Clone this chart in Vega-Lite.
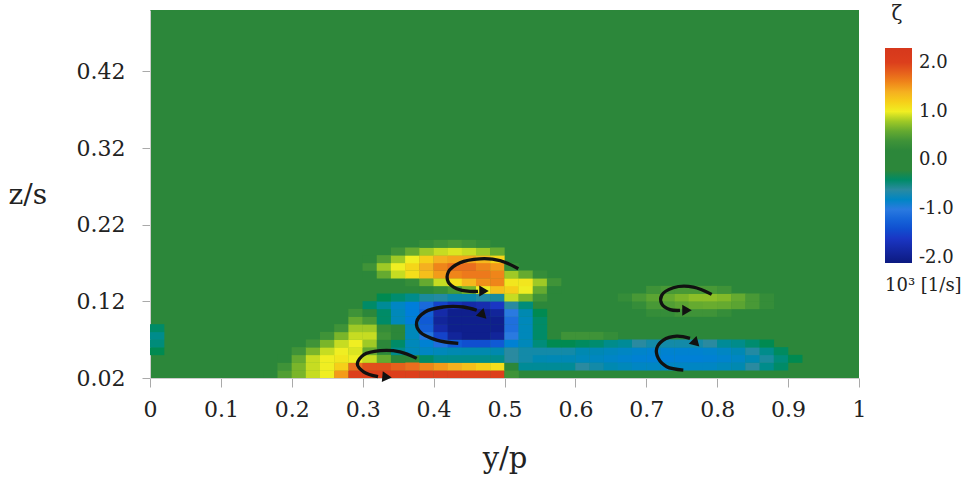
{
"$schema":"https://vega.github.io/schema/vega-lite/v6.json",
"autosize":"none",
"width":709,"height":368,
"padding":{"left":150,"top":10,"right":115,"bottom":106},
"background":"white",
"config":{"view":{"fill":"#2c873a","stroke":null},"font":"DejaVu Serif"},
"title":{"text":"ζ","orient":"top","anchor":"end","frame":"group","align":"center","baseline":"alphabetic","dx":38,"dy":30,"offset":0,"fontSize":20,"font":"DejaVu Serif","fontWeight":"normal","color":"#222"},
"datasets":{
"cells":[
{"x":0.17,"z":0.025,"v":0.3},{"x":0.19,"z":0.025,"v":0.5},{"x":0.21,"z":0.025,"v":0.7},{"x":0.23,"z":0.025,"v":0.9},{"x":0.25,"z":0.025,"v":1.0},{"x":0.27,"z":0.025,"v":1.5},{"x":0.29,"z":0.025,"v":2.0},{"x":0.31,"z":0.025,"v":2.0},{"x":0.33,"z":0.025,"v":2.0},{"x":0.35,"z":0.025,"v":2.0},{"x":0.37,"z":0.025,"v":2.0},{"x":0.39,"z":0.025,"v":2.0},{"x":0.41,"z":0.025,"v":2.0},{"x":0.43,"z":0.025,"v":2.0},{"x":0.45,"z":0.025,"v":2.0},{"x":0.47,"z":0.025,"v":2.0},{"x":0.49,"z":0.025,"v":2.0},{"x":0.51,"z":0.025,"v":0.4},
{"x":0.19,"z":0.035,"v":0.4},{"x":0.21,"z":0.035,"v":0.7},{"x":0.23,"z":0.035,"v":0.9},{"x":0.25,"z":0.035,"v":1.0},{"x":0.27,"z":0.035,"v":1.2},{"x":0.29,"z":0.035,"v":1.7},{"x":0.31,"z":0.035,"v":1.9},{"x":0.33,"z":0.035,"v":1.9},{"x":0.35,"z":0.035,"v":1.8},{"x":0.37,"z":0.035,"v":1.7},{"x":0.39,"z":0.035,"v":1.6},{"x":0.41,"z":0.035,"v":1.5},{"x":0.43,"z":0.035,"v":1.4},{"x":0.45,"z":0.035,"v":1.3},{"x":0.47,"z":0.035,"v":1.2},{"x":0.49,"z":0.035,"v":1.1},{"x":0.51,"z":0.035,"v":-0.3},{"x":0.53,"z":0.035,"v":-0.55},{"x":0.55,"z":0.035,"v":-0.55},{"x":0.57,"z":0.035,"v":-0.55},{"x":0.59,"z":0.035,"v":-0.55},{"x":0.61,"z":0.035,"v":-0.6},{"x":0.63,"z":0.035,"v":-0.65},{"x":0.65,"z":0.035,"v":-0.7},{"x":0.67,"z":0.035,"v":-0.75},{"x":0.69,"z":0.035,"v":-0.8},{"x":0.71,"z":0.035,"v":-0.8},{"x":0.73,"z":0.035,"v":-0.8},{"x":0.75,"z":0.035,"v":-0.8},{"x":0.77,"z":0.035,"v":-0.8},{"x":0.79,"z":0.035,"v":-0.8},{"x":0.81,"z":0.035,"v":-0.75},{"x":0.83,"z":0.035,"v":-0.7},{"x":0.85,"z":0.035,"v":-0.6},{"x":0.87,"z":0.035,"v":-0.5},{"x":0.89,"z":0.035,"v":-0.4},
{"x":0.19,"z":0.045,"v":0.3},{"x":0.21,"z":0.045,"v":0.6},{"x":0.23,"z":0.045,"v":0.9},{"x":0.25,"z":0.045,"v":1.0},{"x":0.27,"z":0.045,"v":1.05},{"x":0.29,"z":0.045,"v":1.0},{"x":0.31,"z":0.045,"v":0.9},{"x":0.33,"z":0.045,"v":0.6},{"x":0.35,"z":0.045,"v":0.3},{"x":0.39,"z":0.045,"v":-0.4},{"x":0.41,"z":0.045,"v":-0.5},{"x":0.43,"z":0.045,"v":-0.5},{"x":0.45,"z":0.045,"v":-0.5},{"x":0.47,"z":0.045,"v":-0.5},{"x":0.49,"z":0.045,"v":-0.5},{"x":0.51,"z":0.045,"v":-0.6},{"x":0.53,"z":0.045,"v":-0.65},{"x":0.55,"z":0.045,"v":-0.7},{"x":0.57,"z":0.045,"v":-0.72},{"x":0.59,"z":0.045,"v":-0.72},{"x":0.61,"z":0.045,"v":-0.75},{"x":0.63,"z":0.045,"v":-0.78},{"x":0.65,"z":0.045,"v":-0.82},{"x":0.67,"z":0.045,"v":-0.86},{"x":0.69,"z":0.045,"v":-0.9},{"x":0.71,"z":0.045,"v":-0.92},{"x":0.73,"z":0.045,"v":-0.92},{"x":0.75,"z":0.045,"v":-0.92},{"x":0.77,"z":0.045,"v":-0.92},{"x":0.79,"z":0.045,"v":-0.9},{"x":0.81,"z":0.045,"v":-0.86},{"x":0.83,"z":0.045,"v":-0.8},{"x":0.85,"z":0.045,"v":-0.7},{"x":0.87,"z":0.045,"v":-0.58},{"x":0.89,"z":0.045,"v":-0.45},{"x":0.91,"z":0.045,"v":-0.35},
{"x":0.01,"z":0.055,"v":-0.35},{"x":0.21,"z":0.055,"v":0.4},{"x":0.23,"z":0.055,"v":0.7},{"x":0.25,"z":0.055,"v":0.9},{"x":0.27,"z":0.055,"v":1.0},{"x":0.29,"z":0.055,"v":0.95},{"x":0.31,"z":0.055,"v":0.6},{"x":0.35,"z":0.055,"v":-0.5},{"x":0.37,"z":0.055,"v":-0.75},{"x":0.39,"z":0.055,"v":-0.8},{"x":0.41,"z":0.055,"v":-0.75},{"x":0.43,"z":0.055,"v":-0.7},{"x":0.45,"z":0.055,"v":-0.68},{"x":0.47,"z":0.055,"v":-0.68},{"x":0.49,"z":0.055,"v":-0.68},{"x":0.51,"z":0.055,"v":-0.6},{"x":0.53,"z":0.055,"v":-0.65},{"x":0.55,"z":0.055,"v":-0.65},{"x":0.57,"z":0.055,"v":-0.65},{"x":0.59,"z":0.055,"v":-0.65},{"x":0.61,"z":0.055,"v":-0.7},{"x":0.63,"z":0.055,"v":-0.72},{"x":0.65,"z":0.055,"v":-0.76},{"x":0.67,"z":0.055,"v":-0.8},{"x":0.69,"z":0.055,"v":-0.84},{"x":0.71,"z":0.055,"v":-0.88},{"x":0.73,"z":0.055,"v":-0.88},{"x":0.75,"z":0.055,"v":-0.88},{"x":0.77,"z":0.055,"v":-0.88},{"x":0.79,"z":0.055,"v":-0.85},{"x":0.81,"z":0.055,"v":-0.8},{"x":0.83,"z":0.055,"v":-0.72},{"x":0.85,"z":0.055,"v":-0.62},{"x":0.87,"z":0.055,"v":-0.5},{"x":0.89,"z":0.055,"v":-0.38},
{"x":0.01,"z":0.065,"v":-0.45},{"x":0.23,"z":0.065,"v":0.4},{"x":0.25,"z":0.065,"v":0.7},{"x":0.27,"z":0.065,"v":0.9},{"x":0.29,"z":0.065,"v":1.0},{"x":0.31,"z":0.065,"v":0.8},{"x":0.33,"z":0.065,"v":0.3},{"x":0.35,"z":0.065,"v":-0.4},{"x":0.37,"z":0.065,"v":-0.75},{"x":0.39,"z":0.065,"v":-0.9},{"x":0.41,"z":0.065,"v":-1.1},{"x":0.43,"z":0.065,"v":-1.3},{"x":0.45,"z":0.065,"v":-1.4},{"x":0.47,"z":0.065,"v":-1.4},{"x":0.49,"z":0.065,"v":-1.3},{"x":0.51,"z":0.065,"v":-0.9},{"x":0.53,"z":0.065,"v":-0.75},{"x":0.55,"z":0.065,"v":-0.45},{"x":0.57,"z":0.065,"v":-0.35},{"x":0.59,"z":0.065,"v":-0.35},{"x":0.61,"z":0.065,"v":-0.38},{"x":0.63,"z":0.065,"v":-0.42},{"x":0.65,"z":0.065,"v":-0.5},{"x":0.67,"z":0.065,"v":-0.55},{"x":0.69,"z":0.065,"v":-0.6},{"x":0.71,"z":0.065,"v":-0.65},{"x":0.73,"z":0.065,"v":-0.65},{"x":0.75,"z":0.065,"v":-0.65},{"x":0.77,"z":0.065,"v":-0.65},{"x":0.79,"z":0.065,"v":-0.6},{"x":0.81,"z":0.065,"v":-0.55},{"x":0.83,"z":0.065,"v":-0.5},{"x":0.85,"z":0.065,"v":-0.42},{"x":0.87,"z":0.065,"v":-0.35},
{"x":0.01,"z":0.075,"v":-0.5},{"x":0.25,"z":0.075,"v":0.4},{"x":0.27,"z":0.075,"v":0.7},{"x":0.29,"z":0.075,"v":0.9},{"x":0.31,"z":0.075,"v":0.9},{"x":0.33,"z":0.075,"v":0.4},{"x":0.35,"z":0.075,"v":-0.3},{"x":0.37,"z":0.075,"v":-0.75},{"x":0.39,"z":0.075,"v":-1.05},{"x":0.41,"z":0.075,"v":-1.5},{"x":0.43,"z":0.075,"v":-1.9},{"x":0.45,"z":0.075,"v":-2.0},{"x":0.47,"z":0.075,"v":-2.0},{"x":0.49,"z":0.075,"v":-1.9},{"x":0.51,"z":0.075,"v":-1.0},{"x":0.53,"z":0.075,"v":-0.75},{"x":0.55,"z":0.075,"v":-0.4},{"x":0.59,"z":0.075,"v":0.4},{"x":0.61,"z":0.075,"v":0.4},{"x":0.63,"z":0.075,"v":0.4},{"x":0.65,"z":0.075,"v":0.35},
{"x":0.01,"z":0.085,"v":-0.4},{"x":0.27,"z":0.085,"v":0.4},{"x":0.29,"z":0.085,"v":0.8},{"x":0.31,"z":0.085,"v":0.8},{"x":0.33,"z":0.085,"v":0.35},{"x":0.35,"z":0.085,"v":-0.3},{"x":0.37,"z":0.085,"v":-0.75},{"x":0.39,"z":0.085,"v":-1.25},{"x":0.41,"z":0.085,"v":-1.8},{"x":0.43,"z":0.085,"v":-2.0},{"x":0.45,"z":0.085,"v":-2.0},{"x":0.47,"z":0.085,"v":-2.0},{"x":0.49,"z":0.085,"v":-2.0},{"x":0.51,"z":0.085,"v":-1.1},{"x":0.53,"z":0.085,"v":-0.75},{"x":0.55,"z":0.085,"v":-0.4},
{"x":0.29,"z":0.095,"v":0.6},{"x":0.31,"z":0.095,"v":0.45},{"x":0.33,"z":0.095,"v":-0.4},{"x":0.35,"z":0.095,"v":-0.75},{"x":0.37,"z":0.095,"v":-0.95},{"x":0.39,"z":0.095,"v":-1.3},{"x":0.41,"z":0.095,"v":-1.9},{"x":0.43,"z":0.095,"v":-2.0},{"x":0.45,"z":0.095,"v":-2.0},{"x":0.47,"z":0.095,"v":-2.0},{"x":0.49,"z":0.095,"v":-2.0},{"x":0.51,"z":0.095,"v":-1.1},{"x":0.53,"z":0.095,"v":-0.75},{"x":0.55,"z":0.095,"v":-0.4},
{"x":0.29,"z":0.105,"v":0.4},{"x":0.31,"z":0.105,"v":0.3},{"x":0.33,"z":0.105,"v":-0.4},{"x":0.35,"z":0.105,"v":-0.75},{"x":0.37,"z":0.105,"v":-0.95},{"x":0.39,"z":0.105,"v":-1.25},{"x":0.41,"z":0.105,"v":-1.8},{"x":0.43,"z":0.105,"v":-2.0},{"x":0.45,"z":0.105,"v":-2.0},{"x":0.47,"z":0.105,"v":-2.0},{"x":0.49,"z":0.105,"v":-1.9},{"x":0.51,"z":0.105,"v":-1.0},{"x":0.53,"z":0.105,"v":-0.7},{"x":0.55,"z":0.105,"v":-0.35},{"x":0.71,"z":0.105,"v":0.35},{"x":0.73,"z":0.105,"v":0.35},{"x":0.75,"z":0.105,"v":0.4},{"x":0.77,"z":0.105,"v":0.4},{"x":0.79,"z":0.105,"v":0.4},{"x":0.81,"z":0.105,"v":0.35},
{"x":0.31,"z":0.115,"v":-0.4},{"x":0.33,"z":0.115,"v":-0.55},{"x":0.35,"z":0.115,"v":-0.8},{"x":0.37,"z":0.115,"v":-0.95},{"x":0.39,"z":0.115,"v":-1.15},{"x":0.41,"z":0.115,"v":-1.5},{"x":0.43,"z":0.115,"v":-1.7},{"x":0.45,"z":0.115,"v":-1.8},{"x":0.47,"z":0.115,"v":-1.75},{"x":0.49,"z":0.115,"v":-1.6},{"x":0.51,"z":0.115,"v":-0.6},{"x":0.53,"z":0.115,"v":-0.45},{"x":0.69,"z":0.115,"v":0.35},{"x":0.71,"z":0.115,"v":0.45},{"x":0.73,"z":0.115,"v":0.5},{"x":0.75,"z":0.115,"v":0.55},{"x":0.77,"z":0.115,"v":0.6},{"x":0.79,"z":0.115,"v":0.62},{"x":0.81,"z":0.115,"v":0.6},{"x":0.83,"z":0.115,"v":0.55},{"x":0.85,"z":0.115,"v":0.45},{"x":0.87,"z":0.115,"v":0.35},
{"x":0.33,"z":0.125,"v":-0.35},{"x":0.35,"z":0.125,"v":-0.42},{"x":0.37,"z":0.125,"v":-0.5},{"x":0.39,"z":0.125,"v":-0.58},{"x":0.41,"z":0.125,"v":-0.62},{"x":0.43,"z":0.125,"v":-0.66},{"x":0.45,"z":0.125,"v":-0.66},{"x":0.47,"z":0.125,"v":-0.62},{"x":0.49,"z":0.125,"v":-0.58},{"x":0.51,"z":0.125,"v":0.9},{"x":0.53,"z":0.125,"v":0.7},{"x":0.55,"z":0.125,"v":0.4},{"x":0.67,"z":0.125,"v":0.35},{"x":0.69,"z":0.125,"v":0.45},{"x":0.71,"z":0.125,"v":0.55},{"x":0.73,"z":0.125,"v":0.6},{"x":0.75,"z":0.125,"v":0.7},{"x":0.77,"z":0.125,"v":0.75},{"x":0.79,"z":0.125,"v":0.75},{"x":0.81,"z":0.125,"v":0.72},{"x":0.83,"z":0.125,"v":0.6},{"x":0.85,"z":0.125,"v":0.45},{"x":0.87,"z":0.125,"v":0.35},
{"x":0.39,"z":0.135,"v":0.3},{"x":0.41,"z":0.135,"v":0.35},{"x":0.43,"z":0.135,"v":0.45},{"x":0.45,"z":0.135,"v":0.7},{"x":0.47,"z":0.135,"v":1.0},{"x":0.49,"z":0.135,"v":1.3},{"x":0.51,"z":0.135,"v":1.2},{"x":0.53,"z":0.135,"v":1.0},{"x":0.55,"z":0.135,"v":0.6},{"x":0.57,"z":0.135,"v":0.3},{"x":0.71,"z":0.135,"v":0.4},{"x":0.73,"z":0.135,"v":0.45},{"x":0.75,"z":0.135,"v":0.45},{"x":0.77,"z":0.135,"v":0.45},{"x":0.79,"z":0.135,"v":0.45},{"x":0.81,"z":0.135,"v":0.4},
{"x":0.37,"z":0.145,"v":0.35},{"x":0.39,"z":0.145,"v":0.6},{"x":0.41,"z":0.145,"v":0.9},{"x":0.43,"z":0.145,"v":1.1},{"x":0.45,"z":0.145,"v":1.35},{"x":0.47,"z":0.145,"v":1.55},{"x":0.49,"z":0.145,"v":1.6},{"x":0.51,"z":0.145,"v":1.05},{"x":0.53,"z":0.145,"v":1.05},{"x":0.55,"z":0.145,"v":0.8},{"x":0.57,"z":0.145,"v":0.4},
{"x":0.31,"z":0.155,"v":0.3},{"x":0.33,"z":0.155,"v":0.6},{"x":0.35,"z":0.155,"v":0.9},{"x":0.37,"z":0.155,"v":1.1},{"x":0.39,"z":0.155,"v":1.3},{"x":0.41,"z":0.155,"v":1.5},{"x":0.43,"z":0.155,"v":1.6},{"x":0.45,"z":0.155,"v":1.65},{"x":0.47,"z":0.155,"v":1.65},{"x":0.49,"z":0.155,"v":1.6},{"x":0.51,"z":0.155,"v":0.8},{"x":0.53,"z":0.155,"v":0.6},{"x":0.55,"z":0.155,"v":0.35},
{"x":0.31,"z":0.165,"v":0.4},{"x":0.33,"z":0.165,"v":0.8},{"x":0.35,"z":0.165,"v":1.0},{"x":0.37,"z":0.165,"v":1.15},{"x":0.39,"z":0.165,"v":1.4},{"x":0.41,"z":0.165,"v":1.6},{"x":0.43,"z":0.165,"v":1.7},{"x":0.45,"z":0.165,"v":1.7},{"x":0.47,"z":0.165,"v":1.6},{"x":0.49,"z":0.165,"v":1.5},{"x":0.51,"z":0.165,"v":0.35},
{"x":0.31,"z":0.175,"v":0.3},{"x":0.33,"z":0.175,"v":0.5},{"x":0.35,"z":0.175,"v":0.8},{"x":0.37,"z":0.175,"v":1.0},{"x":0.39,"z":0.175,"v":1.2},{"x":0.41,"z":0.175,"v":1.4},{"x":0.43,"z":0.175,"v":1.45},{"x":0.45,"z":0.175,"v":1.45},{"x":0.47,"z":0.175,"v":1.35},{"x":0.49,"z":0.175,"v":1.15},
{"x":0.35,"z":0.185,"v":0.4},{"x":0.37,"z":0.185,"v":0.6},{"x":0.39,"z":0.185,"v":0.8},{"x":0.41,"z":0.185,"v":0.9},{"x":0.43,"z":0.185,"v":0.95},{"x":0.45,"z":0.185,"v":0.9},{"x":0.47,"z":0.185,"v":0.8},{"x":0.49,"z":0.185,"v":0.6},
{"x":0.39,"z":0.195,"v":0.35},{"x":0.41,"z":0.195,"v":0.4},{"x":0.43,"z":0.195,"v":0.45},{"x":0.45,"z":0.195,"v":0.4},{"x":0.47,"z":0.195,"v":0.35}
],
"arrows":[
{"arrow":"a1","i":1,"x":0.5195,"z":0.1625},{"arrow":"a1","i":2,"x":0.4937,"z":0.1732},{"arrow":"a1","i":3,"x":0.4654,"z":0.1755},{"arrow":"a1","i":4,"x":0.4372,"z":0.1703},{"arrow":"a1","i":5,"x":0.4207,"z":0.1581},{"arrow":"a1","i":6,"x":0.4207,"z":0.1451},{"arrow":"a1","i":7,"x":0.4326,"z":0.1365},{"arrow":"a1","i":8,"x":0.4513,"z":0.133},{"arrow":"a1","i":9,"x":0.4626,"z":0.133},
{"arrow":"a2","i":1,"x":0.4348,"z":0.0651},{"arrow":"a2","i":2,"x":0.4044,"z":0.0694},{"arrow":"a2","i":3,"x":0.3808,"z":0.0801},{"arrow":"a2","i":4,"x":0.3761,"z":0.0931},{"arrow":"a2","i":5,"x":0.3879,"z":0.1061},{"arrow":"a2","i":6,"x":0.4137,"z":0.1126},{"arrow":"a2","i":7,"x":0.4419,"z":0.1126},{"arrow":"a2","i":8,"x":0.4608,"z":0.1083},
{"arrow":"a3","i":1,"x":0.3762,"z":0.0456},{"arrow":"a3","i":2,"x":0.3526,"z":0.0542},{"arrow":"a3","i":3,"x":0.3244,"z":0.0557},{"arrow":"a3","i":4,"x":0.3018,"z":0.0505},{"arrow":"a3","i":5,"x":0.2924,"z":0.0382},{"arrow":"a3","i":6,"x":0.3018,"z":0.0278},{"arrow":"a3","i":7,"x":0.3216,"z":0.0219},
{"arrow":"a4","i":1,"x":0.7922,"z":0.1291},{"arrow":"a4","i":2,"x":0.7663,"z":0.1386},{"arrow":"a4","i":3,"x":0.7381,"z":0.1377},{"arrow":"a4","i":4,"x":0.7217,"z":0.1278},{"arrow":"a4","i":5,"x":0.7217,"z":0.117},{"arrow":"a4","i":6,"x":0.7334,"z":0.1092},{"arrow":"a4","i":7,"x":0.7475,"z":0.1081},
{"arrow":"a5","i":1,"x":0.7522,"z":0.0304},{"arrow":"a5","i":2,"x":0.7288,"z":0.0347},{"arrow":"a5","i":3,"x":0.7169,"z":0.0456},{"arrow":"a5","i":4,"x":0.7147,"z":0.0586},{"arrow":"a5","i":5,"x":0.724,"z":0.0694},{"arrow":"a5","i":6,"x":0.7429,"z":0.0745},{"arrow":"a5","i":7,"x":0.7616,"z":0.0716}
],
"tips":[
{"arrow":"a1","x":0.4711,"z":0.1336,"heading":0},
{"arrow":"a2","x":0.4697,"z":0.1018,"heading":45},
{"arrow":"a3","x":0.3343,"z":0.0213,"heading":5},
{"arrow":"a4","x":0.7574,"z":0.1083,"heading":0},
{"arrow":"a5","x":0.7701,"z":0.0655,"heading":45}
]
},
"encoding":{
"x":{"field":"x","type":"quantitative","scale":{"domain":[0,1],"nice":false,"zero":false},
 "axis":{"values":[0,0.1,0.2,0.3,0.4,0.5,0.6,0.7,0.8,0.9,1],"format":"~g","grid":false,"title":"y/p","labelFont":"DejaVu Serif","labelFontSize":22,"labelColor":"#222","labelPadding":12,"tickSize":9,"tickColor":"#aaa","domainColor":"#cccccc","titleFont":"DejaVu Serif","titleFontSize":29,"titleFontWeight":"normal","titleColor":"#222","titleY":66,"labelFlush":false}},
"y":{"field":"z","type":"quantitative","scale":{"domain":[0.02,0.5],"nice":false,"zero":false},
 "axis":{"values":[0.02,0.12,0.22,0.32,0.42],"format":".2f","grid":false,"title":"z/s","labelFont":"DejaVu Serif","labelFontSize":22,"labelColor":"#222","labelPadding":17,"tickSize":8,"tickColor":"#aaa","domainColor":"#cccccc","titleFont":"DejaVu Serif","titleFontSize":28,"titleFontWeight":"normal","titleColor":"#222","titleAngle":0,"titleAlign":"left","titleBaseline":"middle","titleX":-142,"titleY":185,"labelFlush":false}}
},
"layer":[
{"data":{"name":"cells"},
 "mark":{"type":"rect","width":14.5,"height":8,"clip":true},
 "encoding":{"color":{"field":"v","type":"quantitative",
   "scale":{"domain":[-2.1,-1.6,-1.0,-0.6,-0.3,0.3,0.7,1.0,1.4,1.7,2.0,2.3],"range":["#0b1a80","#1a36c4","#2a7ae0","#2a8aa0","#2c873a","#2c873a","#7ab52a","#f0ee22","#f5b020","#ea6e1e","#dc3f1c","#d6381c"]},
   "legend":{"orient":"none","legendX":735,"legendY":38,"direction":"vertical","gradientLength":215,"gradientThickness":27,"gradientStrokeWidth":0,"values":[-2,-1,0,1,2],"labelExpr":"replace(format(datum.value,'.1f'),'\u2212','-')","labelFont":"DejaVu Serif","labelFontSize":18,"labelColor":"#222","labelAlign":"left","labelOffset":7,"labelOverlap":false,"title":"10³ [1/s]","titleOrient":"bottom","titleFont":"DejaVu Serif","titleFontSize":18,"titleFontWeight":"normal","titleColor":"#222","titlePadding":10}}}},
{"data":{"name":"arrows"},
 "mark":{"type":"line","interpolate":"catmull-rom","stroke":"#111","strokeWidth":3.3,"clip":false},
 "encoding":{"detail":{"field":"arrow"},"order":{"field":"i","type":"quantitative"}}},
{"data":{"name":"tips"},
 "mark":{"type":"point","shape":"triangle-right","filled":true,"color":"#111","opacity":1,"size":120,"clip":false},
 "encoding":{"angle":{"field":"heading","type":"quantitative","scale":null}}}
]
}
